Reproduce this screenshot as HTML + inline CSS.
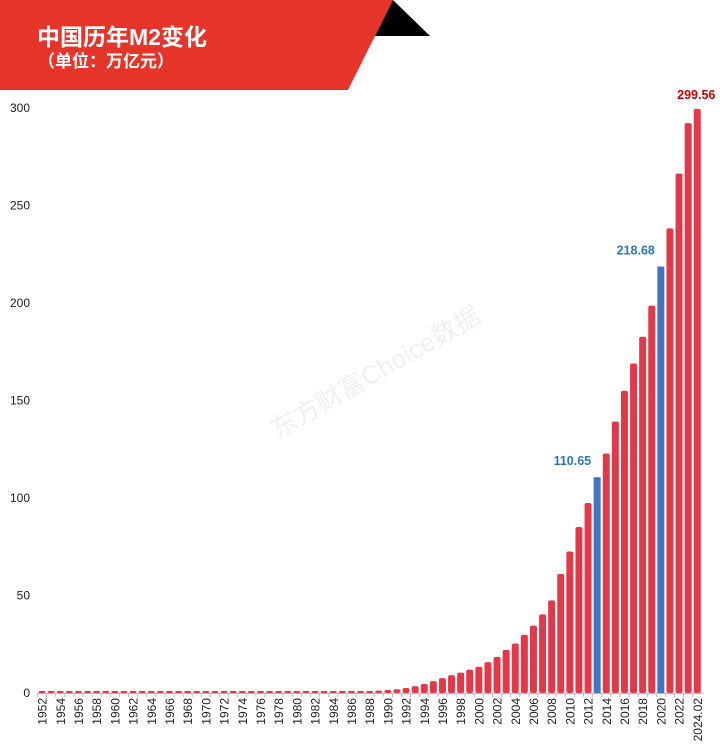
<!DOCTYPE html>
<html><head><meta charset="utf-8">
<style>
html,body{margin:0;padding:0;background:#fff;}
#wrap{position:relative;width:720px;height:754px;overflow:hidden;font-family:"Liberation Sans","Noto Sans CJK SC",sans-serif;}
svg{position:absolute;left:0;top:0;}
</style></head>
<body>
<div id="wrap">
<svg id="chart" width="720" height="754">
  <polygon points="0,0 393,0 348,90 0,90" fill="#e5352b"/>
  <polygon points="393,0 430,36 375,36" fill="#000"/>
  <text x="37" y="45" fill="#fff" font-size="23" font-weight="bold" font-family="'Liberation Sans','Noto Sans CJK SC',sans-serif">中国历年M2变化</text>
  <text x="38" y="67" fill="#fff" font-size="17" font-weight="bold" font-family="'Liberation Sans','Noto Sans CJK SC',sans-serif">（单位：万亿元）</text>
  <text x="380" y="380" fill="#000" fill-opacity="0.06" font-size="26" transform="rotate(-30 380 380)" text-anchor="middle" font-family="'Liberation Sans','Noto Sans CJK SC',sans-serif">东方财富Choice数据</text>
  <g id="yaxis"></g><g id="bars"></g><g id="xaxis"></g><g id="labels"></g>
</svg>
</div>
<script>
const categories = [];
for (let y = 1952; y <= 2023; y++) categories.push(String(y));
categories.push("2024.02");
const values = [0.06,0.07,0.08,0.09,0.1,0.1,0.12,0.14,0.15,0.15,0.14,0.14,0.15,0.16,0.17,0.18,0.19,0.2,0.2,0.21,0.22,0.23,0.24,0.25,0.26,0.28,
0.3,0.36,0.45,0.52,0.58,0.69,0.87,0.52,0.67,0.83,1.01,1.19,1.53,1.93,2.54,3.49,4.69,6.07,7.61,9.1,10.45,11.99,13.46,15.83,18.5,22.12,25.4,29.88,34.56,40.34,47.52,61.02,72.58,85.16,97.42,110.65,122.84,139.23,155.01,169.0,182.67,198.65,218.68,238.29,266.43,292.27,299.56];
const highlighted = ["2013","2020"];
const annotated = ["2013","2020","2024.02"];
const yTicks = [0,50,100,150,200,250,300];

const NS = "http://www.w3.org/2000/svg";
const x0 = 37.5, step = 9.1, yBase = 693, yTop = 108, yMax = 300;
const yScale = v => yBase - v / yMax * (yBase - yTop);
const xCenter = i => x0 + step * i + step / 2;
function mk(tag, attrs, parent) {
  const e = document.createElementNS(NS, tag);
  for (const k in attrs) e.setAttribute(k, attrs[k]);
  parent.appendChild(e); return e;
}
const gy = document.getElementById('yaxis'), gb = document.getElementById('bars'),
      gx = document.getElementById('xaxis'), gl = document.getElementById('labels');
yTicks.forEach(t => {
  const tx = mk('text', {x: 30, y: yScale(t) + 4, 'text-anchor': 'end', 'font-size': 12, fill: '#222'}, gy);
  tx.textContent = t;
  
  
});
const axis = mk('line', {x1: x0, x2: x0 + step * categories.length, y1: yBase + 0.5, y2: yBase + 0.5, stroke: '#bbb'}, gx);


categories.forEach((c, i) => {
  const v = values[i];
  const hi = highlighted.includes(c);
  const h = Math.max(2, yBase - yScale(v));
  const bw = 7;
  const bar = mk('rect', {x: xCenter(i) - bw / 2, y: yBase - h, width: bw, height: h, rx: hi ? 0 : 2, fill: hi ? '#4472c4' : '#e03a4a'}, gb);
  
  
  const tk = mk('line', {x1: x0 + step * i, x2: x0 + step * i, y1: yBase, y2: yBase + 4, stroke: '#bbb'}, gx);
  
  
  if (i % 2 === 0 || i === categories.length - 1) {
    const lx = xCenter(i) + 4.5, ly = yBase + 5;
    const t = mk('text', {x: lx, y: ly, 'text-anchor': 'end', 'font-size': 12, fill: '#222', transform: `rotate(-90 ${lx} ${ly})`}, gx);
    t.textContent = c;
    
    
  }
  if (annotated.includes(c)) {
    const last = c === '2024.02';
    const t = mk('text', {x: last ? xCenter(i) - 1 : xCenter(i) - 6, y: yScale(v) - (last ? 10 : 12), 'text-anchor': last ? 'middle' : 'end', 'font-size': 12.5, 'font-weight': 'bold', fill: last ? '#c00000' : '#2e75b6'}, gl);
    t.textContent = v.toFixed(2);
    
    
  }
});
</script>
</body></html>
